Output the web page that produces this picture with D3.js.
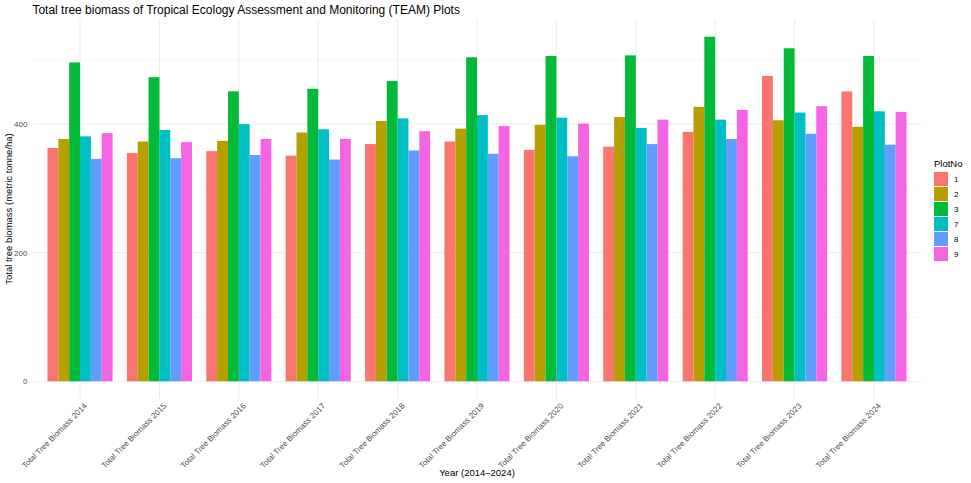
<!DOCTYPE html>
<html>
<head>
<meta charset="utf-8">
<script src="https://cdn.jsdelivr.net/npm/d3@7"></script>
<style>
  body { margin: 0; background: #fff; }
  text { font-family: "Liberation Sans", Arial, sans-serif; }
</style>
</head>
<body>
<div id="chart"></div>
<script>
// Data
const years = ['2014', '2015', '2016', '2017', '2018', '2019', '2020', '2021', '2022', '2023', '2024'];
const xLabels = years.map(y => `Total Tree Biomass ${y}`);
const plots = ['1', '2', '3', '7', '8', '9'];
const plotColors = ['#F8766D', '#B79F00', '#00BA38', '#00BFC4', '#619CFF', '#F564E3'];

const plot1 = [363, 355, 358, 351, 369, 373, 360, 365, 388, 475, 451];
const plot2 = [377, 373, 374, 387, 405, 393, 399, 411, 427, 406, 396];
const plot3 = [496, 473, 451, 455, 467, 504, 506, 507, 536, 518, 506];
const plot7 = [381, 391, 400, 392, 409, 414, 410, 394, 407, 418, 420];
const plot8 = [346, 347, 352, 345, 359, 354, 350, 369, 377, 385, 368];
const plot9 = [386, 372, 377, 377, 389, 397, 401, 407, 422, 428, 419];
const seriesValues = [plot1, plot2, plot3, plot7, plot8, plot9];

const yTicks = [0, 200, 400];
const yMinor = [100, 300, 500];

function createChart(containerId = 'chart') {
    const W = 971, H = 483;
    const panel = { left: 32.4, right: 921.6, top: 19.5, bottom: 398.5 };

    const svg = d3.select(`#${containerId}`)
        .append('svg')
        .attr('width', W)
        .attr('height', H);

    // Scales (ggplot-style 5% expansion on y, 0.6 on discrete x)
    const yMax = d3.max(seriesValues.flat());
    const y = d3.scaleLinear()
        .domain([-0.05 * yMax, 1.05 * yMax])
        .range([panel.bottom, panel.top]);

    const x = d3.scalePoint()
        .domain(years)
        .range([panel.left, panel.right])
        .padding(0.6);

    const step = x.step();
    const xInner = d3.scaleBand()
        .domain(plots)
        .range([-0.41 * step, 0.41 * step]);

    const color = d3.scaleOrdinal().domain(plots).range(plotColors);

    // Grid lines
    const grid = svg.append('g').attr('class', 'grid');
    grid.selectAll('.minor')
        .data(yMinor)
        .enter()
        .append('line')
        .attr('x1', panel.left).attr('x2', panel.right)
        .attr('y1', d => y(d)).attr('y2', d => y(d))
        .attr('stroke', '#f3f3f3')
        .attr('stroke-width', 0.6);
    grid.selectAll('.major')
        .data(yTicks)
        .enter()
        .append('line')
        .attr('x1', panel.left).attr('x2', panel.right)
        .attr('y1', d => y(d)).attr('y2', d => y(d))
        .attr('stroke', '#ebebeb')
        .attr('stroke-width', 1);
    grid.selectAll('.vmajor')
        .data(years)
        .enter()
        .append('line')
        .attr('x1', d => x(d)).attr('x2', d => x(d))
        .attr('y1', panel.top).attr('y2', panel.bottom)
        .attr('stroke', '#ebebeb')
        .attr('stroke-width', 1);

    // Bars
    const rows = [];
    plots.forEach((p, i) => {
        years.forEach((yr, j) => rows.push({ plot: p, year: yr, value: seriesValues[i][j] }));
    });

    svg.append('g')
        .selectAll('rect')
        .data(rows)
        .enter()
        .append('rect')
        .attr('x', d => x(d.year) + xInner(d.plot))
        .attr('width', xInner.bandwidth())
        .attr('y', d => y(d.value))
        .attr('height', d => y(0) - y(d.value))
        .attr('fill', d => color(d.plot));

    // Y axis
    const yAxis = svg.append('g')
        .attr('transform', `translate(${panel.left},0)`)
        .call(d3.axisLeft(y).tickValues(yTicks).tickSize(0).tickPadding(5));
    yAxis.select('.domain').remove();
    yAxis.selectAll('text')
        .style('font-size', '8px')
        .style('fill', '#4d4d4d');

    // X axis
    const xAxis = svg.append('g')
        .attr('transform', `translate(0,${panel.bottom})`)
        .call(d3.axisBottom(x).tickSize(0).tickFormat((d, i) => xLabels[i]));
    xAxis.select('.domain').remove();
    xAxis.selectAll('text')
        .attr('transform', 'translate(3,4) rotate(-45)')
        .attr('dy', '0.7em')
        .attr('y', 0)
        .style('text-anchor', 'end')
        .style('font-size', '8px')
        .style('fill', '#4d4d4d');

    // Axis titles
    svg.append('text')
        .attr('x', (panel.left + panel.right) / 2)
        .attr('y', 476)
        .attr('text-anchor', 'middle')
        .style('font-size', '9.5px')
        .style('fill', '#000')
        .text('Year (2014–2024)');

    svg.append('text')
        .attr('transform', `translate(12,${(panel.top + panel.bottom) / 2}) rotate(-90)`)
        .attr('text-anchor', 'middle')
        .style('font-size', '9.5px')
        .style('fill', '#000')
        .text('Total tree biomass (metric tonne/ha)');

    // Title
    svg.append('text')
        .attr('x', panel.left)
        .attr('y', 14)
        .style('font-size', '12px')
        .style('fill', '#000')
        .text('Total tree biomass of Tropical Ecology Assessment and Monitoring (TEAM) Plots');

    // Legend
    const legend = svg.append('g').attr('transform', 'translate(934,158)');
    legend.append('text')
        .attr('x', 0)
        .attr('y', 9)
        .style('font-size', '9.5px')
        .style('fill', '#000')
        .text('PlotNo');
    const items = legend.selectAll('.item')
        .data(plots)
        .enter()
        .append('g')
        .attr('transform', (d, i) => `translate(0,${14 + i * 15})`);
    items.append('rect')
        .attr('width', 14)
        .attr('height', 14)
        .attr('fill', d => color(d));
    items.append('text')
        .attr('x', 20)
        .attr('y', 10)
        .style('font-size', '8px')
        .style('fill', '#000')
        .text(d => d);
}

createChart();
</script>
</body>
</html>
